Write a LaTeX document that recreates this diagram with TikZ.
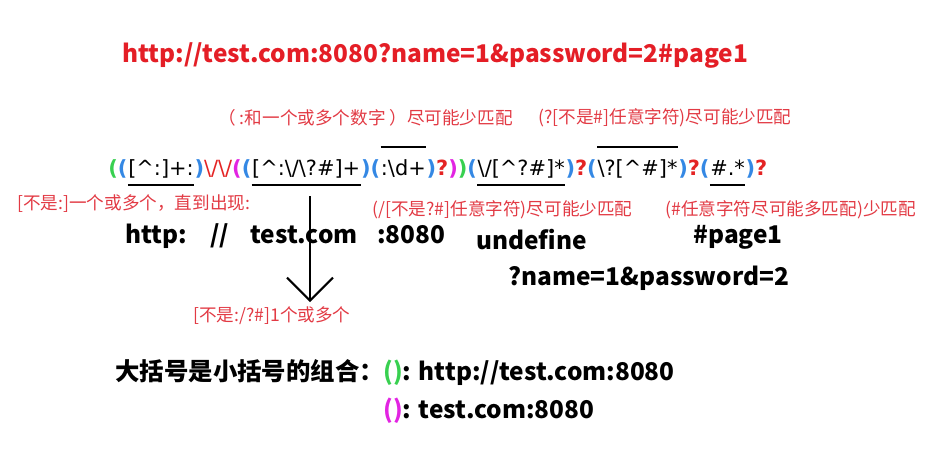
\documentclass[tikz,border=0pt]{standalone}
\usepackage{fontspec}
\setmainfont{Noto Sans CJK SC}
\newfontfamily\regexfont{DejaVu Sans}
\usetikzlibrary{arrows.meta,positioning}
\definecolor{urlRed}{RGB}{228,30,38}
\definecolor{noteRed}{RGB}{226,58,68}
\definecolor{grpGreen}{RGB}{56,208,80}
\definecolor{grpBlue}{RGB}{52,136,228}
\definecolor{grpPink}{RGB}{226,36,226}
\definecolor{optRed}{RGB}{228,36,36}
\newcommand{\bsl}{\textbackslash}
\newcommand{\crt}{\textasciicircum}
\newcommand{\grn}[1]{\textcolor{grpGreen}{\bfseries #1}}
\newcommand{\blu}[1]{\textcolor{grpBlue}{\bfseries #1}}
\newcommand{\pnk}[1]{\textcolor{grpPink}{\bfseries #1}}
\newcommand{\opt}{\textcolor{optRed}{\bfseries ?}}
\tikzset{
  re/.style={inner sep=0pt, anchor=base west, font=\regexfont\fontsize{10.45}{12}\selectfont},
  note/.style={inner sep=0pt, anchor=west, text=noteRed, font=\fontsize{8.8}{10}\selectfont},
  lbl/.style={inner sep=0pt, anchor=base west, font=\bfseries\fontsize{12.2}{14}\selectfont},
  bar/.style={line width=1pt},
  arr/.style={line width=1pt, -{Straight Barb[length=11.5pt,width=23pt]}}
}
\begin{document}
\begin{tikzpicture}[x=0.5pt,y=-0.5pt]
  \useasboundingbox (0,0) rectangle (952,461);
  \node[lbl, text=urlRed] (url) at (122,62) {http://test.com:8080?name=1\&password=2\#page1};
  % regex, piece by piece
  \node[re] (re-open) at (108,175) {\grn{(}\blu{(}};
  \node[re] (re-scheme) at (re-open.base east) {[\crt:]+:};
  \node[re] (re-slashes) at (re-scheme.base east) {\blu{)}\textcolor{optRed}{\bsl/\bsl/}\pnk{(}\blu{(}};
  \node[re] (re-host) at (re-slashes.base east) {[\crt:\bsl/\bsl?\#]+};
  \node[re] (re-mid) at (re-host.base east) {\blu{)(}};
  \node[re] (re-port) at (re-mid.base east) {:\bsl d+};
  \node[re] (re-close) at (re-port.base east) {\blu{)}\opt\pnk{)}\grn{)}\blu{(}};
  \node[re] (re-path) at (re-close.base east) {\bsl/[\crt?\#]*};
  \node[re] (re-qopen) at (re-path.base east) {\blu{)}\opt\blu{(}};
  \node[re] (re-query) at (re-qopen.base east) {\bsl?[\crt\#]*};
  \node[re] (re-hopen) at (re-query.base east) {\blu{)}\opt\blu{(}};
  \node[re] (re-hash) at (re-hopen.base east) {\#.*};
  \node[re] (re-end) at (re-hash.base east) {\blu{)}\opt};
  \foreach \seg in {re-scheme,re-host,re-path,re-hash}
    \draw[bar] ([yshift=-5pt]\seg.base west) -- ([yshift=-5pt]\seg.base east);
  \foreach \seg in {re-port,re-query}
    \draw[bar] ([yshift=14pt]\seg.base west) -- ([yshift=14pt]\seg.base east);
  % notes
  \node[note] (note-port) at (218,118) {（ :和一个或多个数字 ）尽可能少匹配};
  \node[note] (note-query) at (538,118) {(?[不是\#]任意字符)尽可能少匹配};
  \node[note] (note-scheme) at (17,204) {[不是:]一个或多个，直到出现:};
  \node[note] (note-path) at (372,210) {(/[不是?\#]任意字符)尽可能少匹配};
  \node[note] (note-hash) at (665,210) {(\#任意字符尽可能多匹配)少匹配};
  \node[note] (note-host) at (193,316) {[不是:/?\#]1个或多个};
  % matched parts
  \node[lbl] (part-scheme) at (125,243) {http:};
  \node[lbl] (part-slashes) at (210,243) {//};
  \node[lbl] (part-host) at (250,243) {test.com};
  \node[lbl] (part-port) at (377,243) {:8080};
  \node[lbl] (part-path) at (476,249) {undefine};
  \node[lbl] (part-hash) at (693,243) {\#page1};
  \node[lbl] (part-query) at (508,285) {?name=1\&password=2};
  \coordinate (host-top) at (310,196);
  \coordinate (host-tip) at (310,302);
  \draw[arr] (host-top) -- (host-tip);
  % groups
  \node[lbl] (groups) at (115,380) {大括号是小括号的组合：};
  \node[lbl] (outer-group) at (383,380) {\textcolor{grpGreen}{()}: http://test.com:8080};
  \node[lbl] (inner-group) at (383,418) {\textcolor{grpPink}{()}: test.com:8080};
\end{tikzpicture}
\end{document}
